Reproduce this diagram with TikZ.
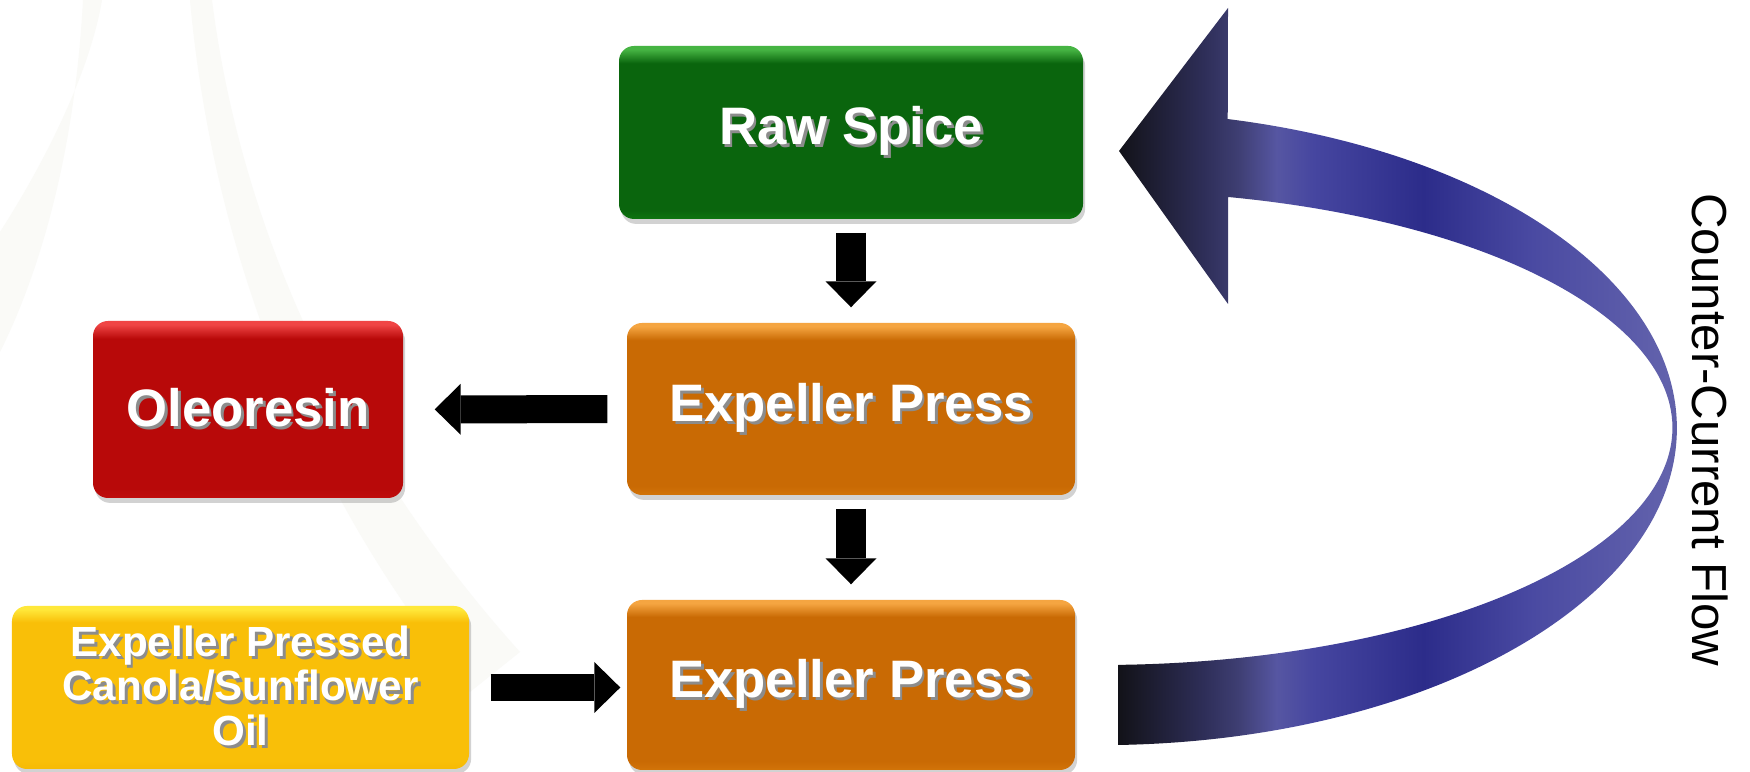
\documentclass[tikz,border=0pt]{standalone}
\usepackage{fontspec}
\setmainfont{Liberation Sans}
\usetikzlibrary{arrows.meta,shadows}

\definecolor{gnM}{HTML}{0A650D}
\definecolor{gnB}{HTML}{0E7510}
\definecolor{gnL}{HTML}{46B443}
\definecolor{orM}{HTML}{C96A04}
\definecolor{orB}{HTML}{D27409}
\definecolor{orL}{HTML}{F5A541}
\definecolor{rdM}{HTML}{B80909}
\definecolor{rdB}{HTML}{C00C0C}
\definecolor{rdL}{HTML}{F04545}
\definecolor{ylM}{HTML}{F9BF08}
\definecolor{ylB}{HTML}{F6BA05}
\definecolor{ylL}{HTML}{FFE83A}
\definecolor{swoosh}{HTML}{FAFAF7}

\definecolor{rbK}{HTML}{121218}
\definecolor{rbA}{HTML}{2E2E58}
\definecolor{rbB}{HTML}{3E3E72}
\definecolor{rbC}{HTML}{5656A2}
\definecolor{rbD}{HTML}{4646A0}
\definecolor{rbE}{HTML}{2C2C8A}
\definecolor{rbF}{HTML}{4A4AA2}
\definecolor{rbG}{HTML}{6262AC}
\definecolor{rbH}{HTML}{55558F}

\newcommand{\bevelshade}[4]{%
  \pgfdeclareverticalshading{#1}{100bp}{color(0bp)=(#3); color(25bp)=(#3);
    color(27.5bp)=(#2); color(70bp)=(#2); color(74bp)=(#4); color(100bp)=(#4)}}
\bevelshade{bvgreen}{gnM}{gnB}{gnL}
\bevelshade{bvorange}{orM}{orB}{orL}
\bevelshade{bvred}{rdM}{rdB}{rdL}
\bevelshade{bvyellow}{ylM}{ylB}{ylL}

\pgfdeclarehorizontalshading{ribbon}{100bp}{color(0bp)=(rbK); color(25bp)=(rbK);
  color(32bp)=(rbA); color(34.8bp)=(rbB); color(38bp)=(rbC); color(41bp)=(rbD);
  color(50bp)=(rbE); color(59bp)=(rbF); color(70bp)=(rbG); color(75bp)=(rbH);
  color(100bp)=(rbH)}

\newcommand{\shtxt}[1]{\makebox[0pt][l]{\kern0.8pt\raisebox{-0.9pt}{\color{black!45}#1}}#1}

\begin{document}
\begin{tikzpicture}[
    box/.style={rounded corners=0.15cm, inner sep=0pt, text=white, shade,
        font=\bfseries\fontsize{15}{18}\selectfont,
        drop shadow={shadow xshift=0.6pt, shadow yshift=-1.4pt, opacity=0.35}},
    blk/.style={line width=0.3cm, -{Triangle[length=0.26cm, width=0.51cm, line width=0pt]}}
]
    \fill[white] (0,0) rectangle (17.5,7.72);
    \useasboundingbox (0,0) rectangle (17.5,7.72);

    % faint background swooshes
    \fill[swoosh] (0.83,7.72) .. controls (0.75,6.2) and (0.4,5.0) .. (0,4.2)
        -- (0,5.4) .. controls (0.45,6.1) and (0.9,7.0) .. (1.02,7.72) -- cycle;
    \fill[swoosh] (1.9,7.72) .. controls (2.1,5.5) and (2.9,3.0) .. (4.7,0.8)
        -- (5.2,1.2) .. controls (3.4,3.2) and (2.4,5.5) .. (2.12,7.72) -- cycle;

    % process boxes
    \node[box, shading=bvgreen, minimum width=4.64cm, minimum height=1.73cm] (raw) at (8.51,6.395) {\shtxt{Raw Spice}};
    \node[box, shading=bvorange, minimum width=4.48cm, minimum height=1.72cm] (press1) at (8.51,3.63) {\shtxt{Expeller Press}};
    \node[box, shading=bvorange, minimum width=4.48cm, minimum height=1.70cm] (press2) at (8.51,0.87) {\shtxt{Expeller Press}};
    \node[box, shading=bvred, minimum width=3.10cm, minimum height=1.77cm] (oleo) at (2.48,3.625) {\shtxt{Oleoresin}};
    \node[box, shading=bvyellow, minimum width=4.57cm, minimum height=1.63cm, align=center,
        font=\bfseries\fontsize{12}{12.6}\selectfont] (oil) at (2.405,0.845)
        {\shtxt{Expeller Pressed}\\\shtxt{Canola/Sunflower}\\\shtxt{Oil}};

    % block arrows
    \draw[blk, shorten <=0.13cm, shorten >=0.15cm] (raw) -- (press1);
    \draw[blk, shorten <=0.13cm, shorten >=0.15cm] (press1) -- (press2);
    \draw[blk, line width=0.28cm, shorten <=0.19cm, shorten >=0.31cm] (press1) -- (oleo);
    \draw[blk, line width=0.27cm, shorten <=0.21cm, shorten >=0.06cm] (oil.east) -- (oil.east -| press2.west);

    % counter-current ribbon
    \shade[shading=ribbon] (11.18,0.27)
        arc[start angle=-88.2, end angle=77.2, x radius=5.77, y radius=3.17]
        -- (12.28,7.64) -- (11.19,6.21) -- (12.28,4.68) -- (12.28,5.75)
        arc[start angle=77.1, end angle=-88.2, x radius=5.72, y radius=2.37] -- cycle;
    \node[rotate=-90, font=\fontsize{14}{16}\selectfont] (flow) at (17.1,3.42) {Counter-Current Flow};
\end{tikzpicture}
\end{document}
